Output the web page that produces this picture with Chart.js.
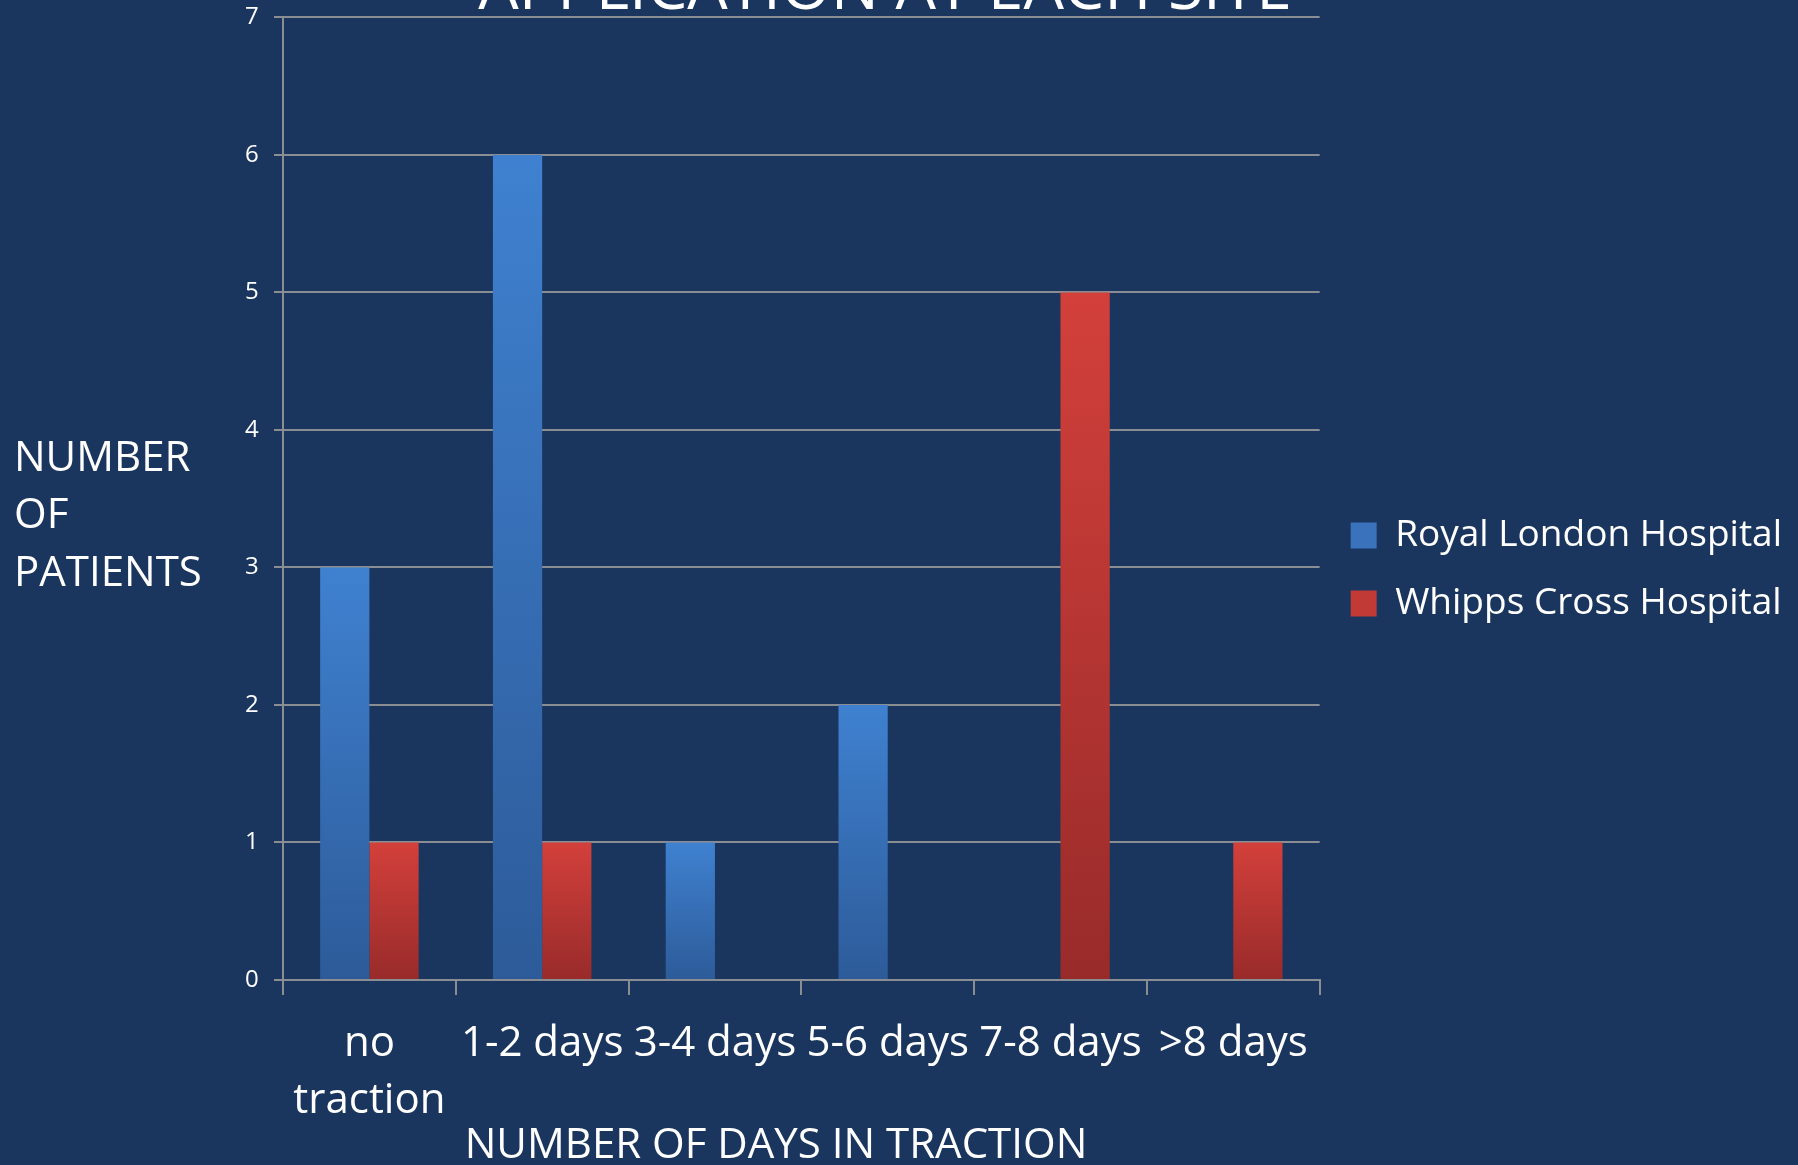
<!DOCTYPE html>
<html>
<head>
<meta charset="utf-8">
<script src="https://cdn.jsdelivr.net/npm/chart.js@4.4.0/dist/chart.umd.min.js"></script>
<style>
  html, body { margin: 0; padding: 0; background: #1a365e; }
  #wrap { width: 1798px; height: 1165px; position: relative; }
</style>
</head>
<body>
<div id="wrap"><canvas id="chart"></canvas></div>
<script>
// data
const categories = [["no", "traction"], "1-2 days", "3-4 days", "5-6 days", "7-8 days", ">8 days"];
const royalLondon = [3, 6, 1, 2, 0, 0];
const whippsCross = [1, 1, 0, 0, 5, 1];
const seriesNames = ["Royal London Hospital", "Whipps Cross Hospital"];
const yTicks = [0, 1, 2, 3, 4, 5, 6, 7];

const FONT = "'Open Sans', sans-serif";
const GRID = "#8a8d92";

function barGradient(top, bottom, solid) {
    return function (ctx) {
        if (ctx.type !== 'data' || !ctx.chart.chartArea) return solid;
        const y = ctx.chart.scales.y;
        const y0 = y.getPixelForValue(ctx.raw);
        const y1 = y.getPixelForValue(0);
        const g = ctx.chart.ctx.createLinearGradient(0, y0, 0, y1);
        g.addColorStop(0, top);
        g.addColorStop(1, bottom);
        return g;
    };
}

// title (cut off at the top) and the two axis titles
const textPlugin = {
    id: 'texts',
    afterDraw(chart) {
        const c = chart.ctx;
        c.save();
        c.fillStyle = "#ffffff";
        c.textBaseline = "alphabetic";
        c.font = "64px " + FONT;
        c.textAlign = "center";
        c.fillText("APPLICATION AT EACH SITE", 885, 9);
        c.font = "42px " + FONT;
        c.fillText("NUMBER OF DAYS IN TRACTION", 776, 1158);
        c.textAlign = "left";
        c.font = "42px " + FONT;
        c.fillText("NUMBER", 14, 471);
        c.fillText("OF", 14, 528);
        c.fillText("PATIENTS", 14, 586);
        c.restore();
    }
};

function draw() {
    const ctx = document.getElementById("chart").getContext("2d");
    new Chart(ctx, {
        type: 'bar',
        data: {
            labels: categories,
            datasets: [{
                label: seriesNames[0],
                data: royalLondon,
                backgroundColor: barGradient("#3f81d0", "#2d5b99", "#3a72bb"),
                borderWidth: 0
            }, {
                label: seriesNames[1],
                data: whippsCross,
                backgroundColor: barGradient("#d3403b", "#982b2a", "#c23a36"),
                borderWidth: 0
            }]
        },
        options: {
            responsive: true,
            maintainAspectRatio: false,
            animation: false,
            categoryPercentage: 0.57,
            barPercentage: 1.0,
            layout: { padding: { top: 0, bottom: 26, left: 245, right: 6 } },
            plugins: {
                tooltip: { enabled: false },
                legend: {
                    position: 'right',
                    maxWidth: 700,
                    labels: {
                        color: "#ffffff",
                        font: { family: FONT, size: 37 },
                        boxWidth: 26,
                        boxHeight: 26,
                        padding: 31,
                        generateLabels(chart) {
                            const solids = ["#3a72bb", "#c23a36"];
                            return chart.data.datasets.map((ds, i) => ({
                                text: ds.label,
                                fillStyle: solids[i],
                                strokeStyle: solids[i],
                                lineWidth: 0,
                                fontColor: "#ffffff",
                                datasetIndex: i,
                                hidden: false
                            }));
                        }
                    }
                }
            },
            scales: {
                x: {
                    afterFit(scale) { scale.height = 159; },
                    grid: {
                        drawOnChartArea: false,
                        color: GRID,
                        lineWidth: 2,
                        tickLength: 15,
                        offset: true
                    },
                    border: { color: GRID, width: 2 },
                    ticks: {
                        color: "#ffffff",
                        font: { family: FONT, size: 42, lineHeight: 1.36 },
                        padding: 20,
                        maxRotation: 0,
                        autoSkip: false
                    }
                },
                y: {
                    min: 0,
                    max: 7,
                    afterFit(scale) { scale.width = 38; },
                    afterBuildTicks(scale) { scale.ticks = yTicks.map(v => ({ value: v })); },
                    grid: {
                        color: GRID,
                        lineWidth: 2,
                        tickLength: 9
                    },
                    border: { color: GRID, width: 2 },
                    ticks: {
                        color: "#ffffff",
                        font: { family: FONT, size: 24 },
                        padding: 3,
                        crossAlign: 'far'
                    }
                }
            }
        },
        plugins: [textPlugin]
    });
}

document.fonts.load("37px 'Open Sans'").then(draw, draw);
</script>
</body>
</html>
